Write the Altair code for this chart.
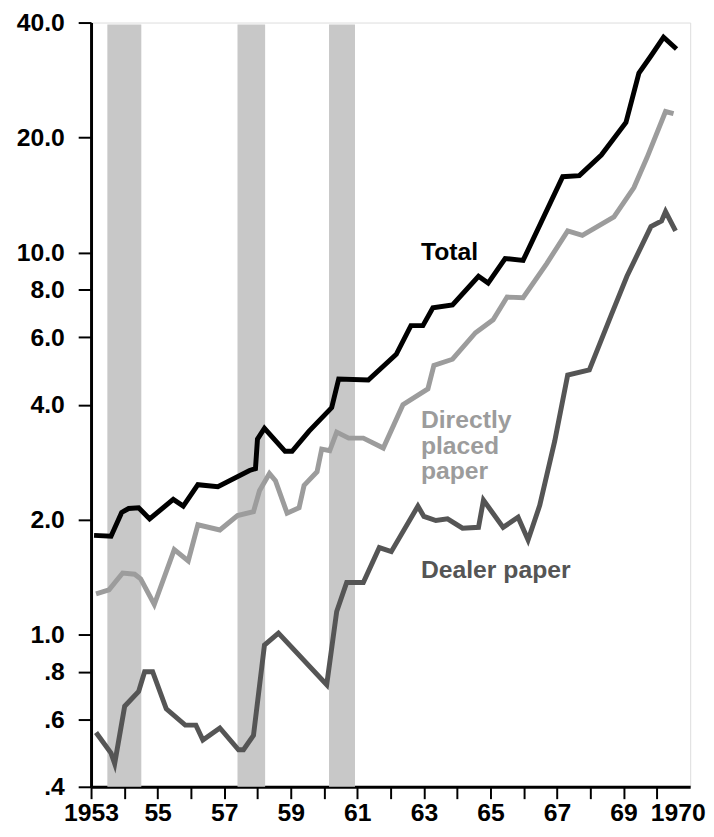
import altair as alt
import pandas as pd

# ---------------- data ----------------
total_year = [1953.09, 1953.60, 1953.92, 1954.13, 1954.43, 1954.76, 1955.47, 1955.77,
              1956.21, 1956.81, 1957.76, 1957.94, 1958.00, 1958.21, 1958.83, 1959.04,
              1959.55, 1960.23, 1960.44, 1961.33, 1962.17, 1962.61, 1962.97, 1963.27,
              1963.86, 1964.64, 1964.93, 1965.44, 1965.98, 1967.17, 1967.67, 1968.33,
              1969.07, 1969.46, 1969.82, 1970.20, 1970.59]
total_value = [1.82, 1.81, 2.09, 2.14, 2.15, 2.01, 2.26, 2.17,
               2.47, 2.44, 2.69, 2.72, 3.25, 3.47, 3.02, 3.02,
               3.41, 3.93, 4.67, 4.64, 5.42, 6.44, 6.44, 7.17,
               7.30, 8.67, 8.32, 9.65, 9.54, 15.8, 15.9, 18.0,
               21.9, 29.5, 32.7, 36.6, 34.1]

direct_year = [1953.15, 1953.54, 1953.95, 1954.31, 1954.49, 1954.90, 1955.50, 1955.92,
               1956.21, 1956.87, 1957.40, 1957.88, 1958.06, 1958.36, 1958.54, 1958.89,
               1959.25, 1959.40, 1959.79, 1959.93, 1960.17, 1960.38, 1960.74, 1961.18,
               1961.78, 1962.37, 1963.12, 1963.30, 1963.86, 1964.55, 1965.08, 1965.50,
               1965.98, 1966.69, 1967.32, 1967.76, 1968.71, 1969.31, 1969.70, 1970.26,
               1970.50]
direct_value = [1.28, 1.31, 1.45, 1.44, 1.40, 1.20, 1.67, 1.56,
                1.94, 1.88, 2.05, 2.10, 2.38, 2.64, 2.53, 2.08,
                2.15, 2.46, 2.67, 3.06, 3.03, 3.39, 3.27, 3.27,
                3.08, 4.00, 4.40, 5.07, 5.26, 6.17, 6.67, 7.65,
                7.62, 9.36, 11.4, 11.1, 12.4, 14.8, 17.7, 23.4,
                23.1]

dealer_year = [1953.15, 1953.60, 1953.71, 1954.01, 1954.43, 1954.61, 1954.85, 1955.26,
               1955.83, 1956.15, 1956.36, 1956.87, 1957.43, 1957.58, 1957.88, 1958.21,
               1958.63, 1960.08, 1960.38, 1960.68, 1961.18, 1961.66, 1962.02, 1962.82,
               1963.00, 1963.36, 1963.71, 1964.16, 1964.64, 1964.79, 1965.38, 1965.83,
               1966.13, 1966.48, 1966.93, 1967.32, 1967.97, 1968.63, 1969.10, 1969.82,
               1970.14, 1970.26, 1970.56]
dealer_value = [0.555, 0.49, 0.46, 0.65, 0.71, 0.80, 0.80, 0.64,
                0.58, 0.58, 0.53, 0.57, 0.50, 0.50, 0.545, 0.94,
                1.01, 0.74, 1.15, 1.37, 1.37, 1.69, 1.65, 2.17,
                2.04, 1.99, 2.01, 1.90, 1.91, 2.25, 1.91, 2.03,
                1.77, 2.18, 3.21, 4.78, 4.93, 6.87, 8.67, 11.7,
                12.1, 12.8, 11.4]

recession_start = [1953.49, 1957.40, 1960.15]
recession_end = [1954.51, 1958.23, 1960.93]

series_names = ["Dealer paper", "Directly placed paper", "Total"]
series_colors = ["#555555", "#9c9c9c", "#000000"]

y_ticks = [0.4, 0.6, 0.8, 1, 2, 4, 6, 8, 10, 20, 40]
x_ticks = list(range(1953, 1971))

label_texts = ["Total", "Directly", "placed", "paper", "Dealer paper"]
label_years = [1962.91, 1962.91, 1962.91, 1962.91, 1962.91]
label_values = [9.54, 3.47, 2.97, 2.55, 1.41]
label_colors = ["#000000", "#9c9c9c", "#9c9c9c", "#9c9c9c", "#555555"]

# ---------------- tables ----------------
rows = []
for name, ys, vs in [("Dealer paper", dealer_year, dealer_value),
                     ("Directly placed paper", direct_year, direct_value),
                     ("Total", total_year, total_value)]:
    for i, (yr, v) in enumerate(zip(ys, vs)):
        rows.append({"series": name, "year": yr, "value": v, "order": i})
lines_df = pd.DataFrame(rows)

bands_df = pd.DataFrame({"start": recession_start, "end": recession_end})
labels_df = pd.DataFrame({"text": label_texts, "year": label_years,
                          "value": label_values, "color": label_colors})

FONT = "Liberation Sans"

x_scale = alt.Scale(domain=[1953, 1971], nice=False, zero=False)
y_scale = alt.Scale(type="log", domain=[0.4, 40], nice=False)

axis_style = dict(
    labelFont=FONT, labelFontWeight="bold", labelFontSize=25, labelColor="black",
    domainColor="black", domainWidth=3, tickColor="black", tickWidth=2,
    labelOverlap=False, labelFlush=False, labelBound=False, title=None, grid=False,
    tickCount=60,
)

x_axis = alt.Axis(
    values=x_ticks,
    labelExpr="datum.value == 1953 || datum.value == 1970 ? toString(datum.value) : "
              "(datum.value % 2 == 1 ? substring(toString(datum.value), 2) : '')",
    labelOffset={"condition": {"test": "datum.value == 1970", "value": 21}, "value": 0},
    tickSize=12, labelPadding=2, **axis_style,
)
y_axis = alt.Axis(
    values=y_ticks,
    labelExpr="datum.value >= 1 ? format(datum.value, '.1f') : "
              "replace(format(datum.value, '.1f'), '0.', '.')",
    tickSize=13, labelPadding=14, **axis_style,
)

bands = alt.Chart(bands_df).mark_rect(color="#c8c8c8").encode(
    x=alt.X("start:Q", scale=x_scale, axis=x_axis),
    x2="end:Q",
    y=alt.value(2),
    y2=alt.value(773),
)

lines = alt.Chart(lines_df).mark_line(strokeWidth=5, strokeJoin="miter").encode(
    x=alt.X("year:Q", scale=x_scale, axis=x_axis),
    y=alt.Y("value:Q", scale=y_scale, axis=y_axis),
    color=alt.Color("series:N", scale=alt.Scale(domain=series_names, range=series_colors),
                    legend=None),
    order="order:Q",
)

labels = alt.Chart(labels_df).mark_text(
    align="left", baseline="alphabetic", font=FONT, fontWeight="bold", fontSize=25
).encode(
    x=alt.X("year:Q", scale=x_scale),
    y=alt.Y("value:Q", scale=y_scale),
    text="text:N",
    color=alt.Color("color:N", scale=None),
)

chart = alt.layer(bands, lines, labels).properties(
    width=606, height=773,
    autosize=alt.AutoSizeParams(type="none"),
    padding={"left": 84, "top": 10, "right": 16, "bottom": 40},
).configure_view(
    stroke="black", strokeWidth=2
).configure(background="white")

chart.save("out.html", embed_options={"renderer": "svg", "actions": False})
